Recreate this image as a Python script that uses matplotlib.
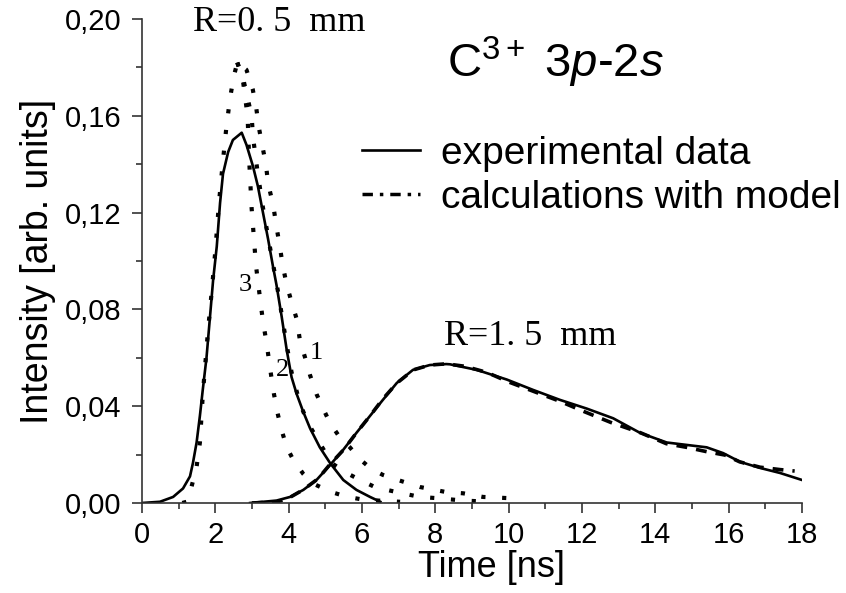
import matplotlib
matplotlib.use("Agg")
import matplotlib.pyplot as plt
from matplotlib.lines import Line2D

# ---- data -------------------------------------------------------------
# experimental, R = 0.5 mm
t_exp05 = [0.0, 0.49, 0.85, 1.12, 1.31, 1.39, 1.49, 1.58, 1.66, 1.76, 1.85, 1.94, 2.04,
           2.13, 2.21, 2.35, 2.48, 2.72, 2.85, 3.03, 3.16, 3.30, 3.44, 3.57, 3.67,
           3.81, 3.95, 4.08, 4.22, 4.39, 4.58, 4.85, 5.13, 5.49, 5.85, 6.22, 6.5]
i_exp05 = [0.0, 0.0005, 0.0025, 0.006, 0.011, 0.0165, 0.025, 0.036, 0.047, 0.060, 0.076, 0.092, 0.106,
           0.124, 0.136, 0.145, 0.150, 0.153, 0.148, 0.139, 0.131, 0.120, 0.109, 0.098, 0.090,
           0.077, 0.063, 0.052, 0.045, 0.038, 0.031, 0.023, 0.0165, 0.0095, 0.0054, 0.0025, 0.0005]

# model curves, R = 0.5 mm (labelled 1, 2, 3)
t_rise = [1.1, 1.22, 1.35, 1.49, 1.58, 1.66, 1.8, 1.9, 2.0, 2.1, 2.2, 2.3, 2.4, 2.5, 2.6]
i_rise = [0.0, 0.0005, 0.0066, 0.015, 0.025, 0.045, 0.071, 0.087, 0.104, 0.124, 0.140, 0.155, 0.167, 0.176, 0.182]

t_mod1 = [2.85, 3.02, 3.11, 3.19, 3.29, 3.38, 3.44, 3.58, 3.67, 3.76, 3.84, 3.95, 4.08, 4.22,
          4.31, 4.45, 4.58, 4.76, 4.94, 5.13, 5.4, 5.67, 5.95, 6.26, 6.57, 6.98, 7.58, 8.3,
          8.76, 9.3, 10.0]
i_mod1 = [0.179, 0.171, 0.164, 0.155, 0.147, 0.140, 0.132, 0.123, 0.114, 0.106, 0.098, 0.090, 0.083, 0.076,
          0.067, 0.060, 0.053, 0.045, 0.039, 0.033, 0.027, 0.023, 0.018, 0.014, 0.0116, 0.0095, 0.0066, 0.0045,
          0.004, 0.0025, 0.002]

t_mod2 = [2.75, 2.87, 2.99, 3.03, 3.16, 3.30, 3.44, 3.57, 3.67, 3.81, 3.95, 4.08, 4.31, 4.53,
          4.76, 5.17, 5.58, 5.95, 6.35, 6.8, 7.1, 7.58, 8.04, 8.76, 9.5]
i_mod2 = [0.176, 0.168, 0.160, 0.151, 0.136, 0.122, 0.110, 0.099, 0.091, 0.078, 0.065, 0.054, 0.041, 0.033,
          0.027, 0.0165, 0.0124, 0.0095, 0.0066, 0.005, 0.004, 0.0025, 0.002, 0.001, 0.0005]

t_mod3 = [2.75, 2.88, 2.93, 2.99, 3.05, 3.11, 3.2, 3.3, 3.4, 3.5, 3.6, 3.7, 3.81, 3.95, 4.12,
          4.4, 4.67, 5.13, 5.58, 5.95, 6.44, 7.04]
i_mod3 = [0.175, 0.160, 0.140, 0.122, 0.110, 0.098, 0.087, 0.075, 0.066, 0.055, 0.045, 0.037, 0.030, 0.023, 0.018,
          0.012, 0.008, 0.0047, 0.0026, 0.0016, 0.001, 0.0005]

# experimental, R = 1.5 mm
t_exp15 = [2.95, 3.67, 4.04, 4.4, 4.76, 5.13, 5.49, 5.85, 6.22, 6.57, 6.95, 7.39, 7.85, 8.3,
           8.4, 9.13, 9.95, 10.67, 11.4, 12.13, 12.85, 13.58, 14.31, 14.85, 15.4, 15.85,
           16.31, 16.85, 17.4, 18.0]
i_exp15 = [0.0, 0.001, 0.0025, 0.0054, 0.0095, 0.0157, 0.022, 0.029, 0.036, 0.0426, 0.0496, 0.055, 0.057, 0.0574,
           0.0573, 0.055, 0.051, 0.0467, 0.0426, 0.039, 0.035, 0.029, 0.025, 0.024, 0.023, 0.0206,
           0.017, 0.0145, 0.0124, 0.0095]

# model, R = 1.5 mm
t_mod15 = [3.0, 3.7, 4.0, 4.4, 4.8, 5.13, 5.5, 5.85, 6.22, 6.57, 6.95, 7.4, 7.85, 8.3, 8.8, 9.4,
           10.0, 10.7, 11.4, 12.1, 12.8, 13.6, 14.3, 14.85, 15.4, 15.9, 16.3, 16.85, 17.4, 17.8]
i_mod15 = [0.0, 0.0005, 0.002, 0.0055, 0.010, 0.016, 0.022, 0.029, 0.036, 0.043, 0.0495, 0.055, 0.057, 0.0575,
           0.0565, 0.054, 0.050, 0.046, 0.042, 0.0375, 0.0332, 0.029, 0.0245, 0.023, 0.0212, 0.0198,
           0.017, 0.0148, 0.0138, 0.0132]

xticks = [0, 2, 4, 6, 8, 10, 12, 14, 16, 18]
xticklabels = ["0", "2", "4", "6", "8", "10", "12", "14", "16", "18"]
yticks = [0.00, 0.04, 0.08, 0.12, 0.16, 0.20]
yticklabels = ["0,00", "0,04", "0,08", "0,12", "0,16", "0,20"]

# ---- figure -----------------------------------------------------------
plt.rcParams['font.family'] = ['Liberation Sans', 'DejaVu Sans']
plt.rcParams['mathtext.fontset'] = 'custom'
plt.rcParams['mathtext.rm'] = 'Liberation Sans'
plt.rcParams['mathtext.it'] = 'Liberation Sans:italic'
fig = plt.figure(figsize=(8.46, 5.93), dpi=100)
ax = fig.add_axes([0.1678, 0.1518, 0.948 - 0.1678, 0.968 - 0.1518])

dot = (0, (1.0, 4.0))
dlw = 3.0
ax.plot(t_rise + t_mod1, i_rise + i_mod1, color='black', lw=dlw, ls=dot, dash_capstyle='butt')
ax.plot(t_rise[-1:] + t_mod2, i_rise[-1:] + i_mod2, color='black', lw=dlw, ls=dot, dash_capstyle='butt')
ax.plot(t_rise[-1:] + t_mod3, i_rise[-1:] + i_mod3, color='black', lw=dlw, ls=dot, dash_capstyle='butt')
ax.plot(t_mod15, i_mod15, color='black', lw=2.6, ls=(0, (3, 2.5)))
ax.plot(t_exp05, i_exp05, color='black', lw=1.9)
ax.plot(t_exp15, i_exp15, color='black', lw=1.9)

ax.set_xlim(0, 18)
ax.set_ylim(0, 0.20)
ax.set_xticks(xticks)
ax.set_xticklabels(xticklabels)
ax.set_xticks(range(0, 19), minor=True)
ax.set_yticks(yticks)
ax.set_yticklabels(yticklabels)
ax.set_yticks([0.02, 0.06, 0.10, 0.14, 0.18], minor=True)
for s in ['top', 'right']:
    ax.spines[s].set_visible(False)
for s in ['left', 'bottom']:
    ax.spines[s].set_linewidth(1.2)
    ax.spines[s].set_color('#333333')
ax.tick_params(which='major', direction='out', length=7, width=1.2, labelsize=21, colors='#333333',
               labelcolor='black', pad=6)
ax.tick_params(axis='y', which='major', pad=8)
ax.tick_params(which='minor', direction='out', length=4, width=1.2, colors='#333333')
ax.set_xlabel("Time [ns]", fontsize=26, labelpad=1)
ax.xaxis.label.set_x(0.53)
ax.set_ylabel("Intensity [arb. units]", fontsize=27, labelpad=6)

serif = ['Liberation Serif', 'DejaVu Serif']
ax.text(1.4, 0.1985, "R=0. 5  mm", family=serif, fontsize=26, ha='left', va='center')
ax.text(8.25, 0.069, "R=1. 5  mm", family=serif, fontsize=26, ha='left', va='center')
ax.text(2.82, 0.090, "3", family=serif, fontsize=19, ha='center', va='center')
ax.text(3.82, 0.055, "2", family=serif, fontsize=19, ha='center', va='center')
ax.text(4.75, 0.062, "1", family=serif, fontsize=19, ha='center', va='center')
ax.text(8.32, 0.182, r"C$^{3+}$ $\mathit{3p}$-$\mathit{2s}$", fontsize=34, ha='left', va='center')

handles = [Line2D([], [], color='black', lw=1.9),
           Line2D([], [], color='black', lw=2.5, ls=(0, (3, 2, 1, 2)))]
ax.legend(handles, ["experimental data", "calculations with model"], frameon=False,
          fontsize=28, loc='upper left', bbox_to_anchor=(0.333, 0.758), handlelength=1.5,
          handletextpad=0.55, labelspacing=0.2, borderaxespad=0, borderpad=0)

fig.savefig("out.png", dpi=100)
